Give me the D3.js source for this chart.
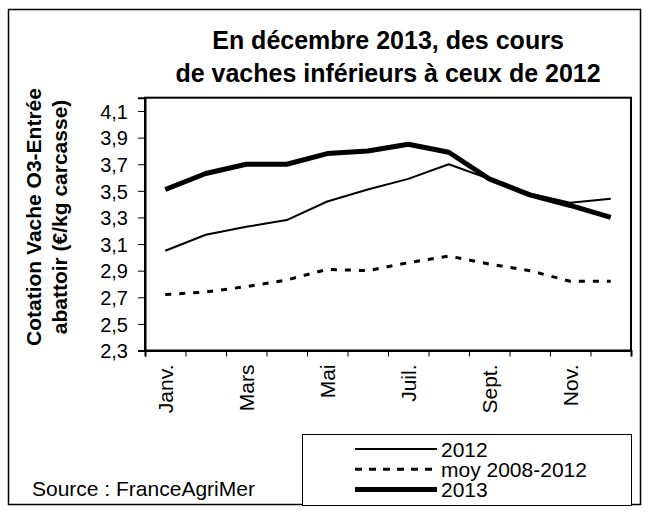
<!DOCTYPE html>
<html lang="fr">
<head>
  <meta charset="UTF-8" />
  <title>Cotation Vache O3</title>
  <style>
    body { margin: 0; background: #fff; }
    text { font-family: "Liberation Sans", Arial, sans-serif; fill: #000; }
  </style>
</head>
<body>
  <svg id="chart" width="653" height="513"></svg>

  <script src="https://d3js.org/d3.v7.min.js"></script>
  <script>
    // mois (un libellé sur deux affiché)
    const months = ["Janv.", "Févr.", "Mars", "Avr.", "Mai", "Juin", "Juil.", "Août", "Sept.", "Oct.", "Nov.", "Déc."];
    const monthLabels = ["Janv.", "", "Mars", "", "Mai", "", "Juil.", "", "Sept.", "", "Nov.", ""];

    const v2012 = [3.05, 3.17, 3.23, 3.28, 3.42, 3.51, 3.59, 3.70, 3.59, 3.48, 3.41, 3.44];
    const vMoy = [2.72, 2.74, 2.78, 2.83, 2.91, 2.90, 2.96, 3.01, 2.95, 2.90, 2.82, 2.82];
    const v2013 = [3.51, 3.63, 3.70, 3.70, 3.78, 3.80, 3.85, 3.79, 3.59, 3.47, 3.39, 3.30];

    const yTicks = [2.3, 2.5, 2.7, 2.9, 3.1, 3.3, 3.5, 3.7, 3.9, 4.1];

    const series = [
      { name: "2012", values: v2012, width: 2, dash: null },
      { name: "moy 2008-2012", values: vMoy, width: 3, dash: "6,8" },
      { name: "2013", values: v2013, width: 5, dash: null }
    ];

    const svg = d3.select("#chart");

    // cadre général
    svg.append("rect")
      .attr("x", 8.5).attr("y", 9.5)
      .attr("width", 632).attr("height", 495)
      .attr("fill", "none").attr("stroke", "#000").attr("stroke-width", 1.5);

    const pLeft = 145, pRight = 631, pTop = 97.7, pBottom = 350.5;

    const x = d3.scaleBand().domain(months).range([pLeft, pRight]);
    const xEdge = d3.scaleLinear().domain([0, 12]).range([pLeft, pRight]);
    const y = d3.scaleLinear().domain([2.3, 4.2]).range([pBottom, pTop]);

    // titre
    const title = svg.append("text")
      .attr("x", 388).attr("y", 49)
      .attr("text-anchor", "middle")
      .attr("font-size", "25px").attr("font-weight", "bold");
    title.append("tspan").attr("x", 388).text("En décembre 2013, des cours");
    title.append("tspan").attr("x", 388).attr("dy", 32.5).text("de vaches inférieurs à ceux de 2012");

    // titre de l'axe Y
    const yTitle = svg.append("text")
      .attr("transform", `translate(41, 217) rotate(-90)`)
      .attr("text-anchor", "middle")
      .attr("font-size", "21px").attr("font-weight", "bold");
    yTitle.append("tspan").attr("x", 0).text("Cotation Vache O3-Entrée");
    yTitle.append("tspan").attr("x", 0).attr("dy", 26).text("abattoir (€/kg carcasse)");

    // cadre du graphique
    svg.append("rect")
      .attr("x", pLeft).attr("y", pTop)
      .attr("width", pRight - pLeft).attr("height", pBottom - pTop)
      .attr("fill", "#fff").attr("stroke", "#000").attr("stroke-width", 2);

    // axe Y
    const yAxis = svg.append("g")
      .attr("transform", `translate(${pLeft},0)`)
      .call(d3.axisLeft(y).tickValues(yTicks).tickSize(7).tickPadding(10)
        .tickFormat(d => d3.format(".1f")(d).replace(".", ",")));
    yAxis.select(".domain").attr("stroke-width", 2);
    yAxis.selectAll(".tick text").attr("font-size", "20px").attr("font-family", "Liberation Sans, Arial, sans-serif").attr("dy", "0.36em");

    // axe X : graduations entre les mois
    const xAxis = svg.append("g")
      .attr("transform", `translate(0,${pBottom})`)
      .call(d3.axisBottom(xEdge).tickValues(d3.range(13)).tickSize(6).tickFormat(""));
    xAxis.select(".domain").attr("stroke-width", 2);

    svg.append("g")
      .attr("transform", `translate(0,${pBottom})`)
      .call(d3.axisBottom(x).tickSize(0).tickFormat((d, i) => monthLabels[i]))
      .call(g => g.select(".domain").remove())
      .selectAll(".tick text")
      .attr("font-size", "21px")
      .attr("font-family", "Liberation Sans, Arial, sans-serif")
      .attr("text-anchor", "end")
      .attr("transform", "rotate(-90)")
      .attr("x", -14).attr("y", 0).attr("dy", "0.36em");

    // courbes
    const line = d3.line()
      .x((d, i) => x(months[i]) + x.bandwidth() / 2)
      .y(d => y(d));

    series.forEach(s => {
      svg.append("path")
        .datum(s.values)
        .attr("d", line)
        .attr("fill", "none")
        .attr("stroke", "#000")
        .attr("stroke-width", s.width)
        .attr("stroke-linejoin", "round")
        .attr("stroke-dasharray", s.dash);
    });

    // légende
    svg.append("rect")
      .attr("x", 302.5).attr("y", 434.5)
      .attr("width", 329).attr("height", 71)
      .attr("fill", "#fff").attr("stroke", "#000").attr("stroke-width", 1);

    const legend = svg.append("g");
    series.forEach((s, i) => {
      const ly = 449 + i * 20.3;
      legend.append("line")
        .attr("x1", 355).attr("x2", 437)
        .attr("y1", ly).attr("y2", ly)
        .attr("stroke", "#000")
        .attr("stroke-width", s.width)
        .attr("stroke-dasharray", s.dash ? "7,7" : null);
      legend.append("text")
        .attr("x", 441).attr("y", ly + 7.5)
        .attr("font-size", "21px")
        .text(s.name);
    });

    svg.append("text")
      .attr("x", 32).attr("y", 496)
      .attr("font-size", "21px")
      .text("Source : FranceAgriMer");
  </script>
</body>
</html>
